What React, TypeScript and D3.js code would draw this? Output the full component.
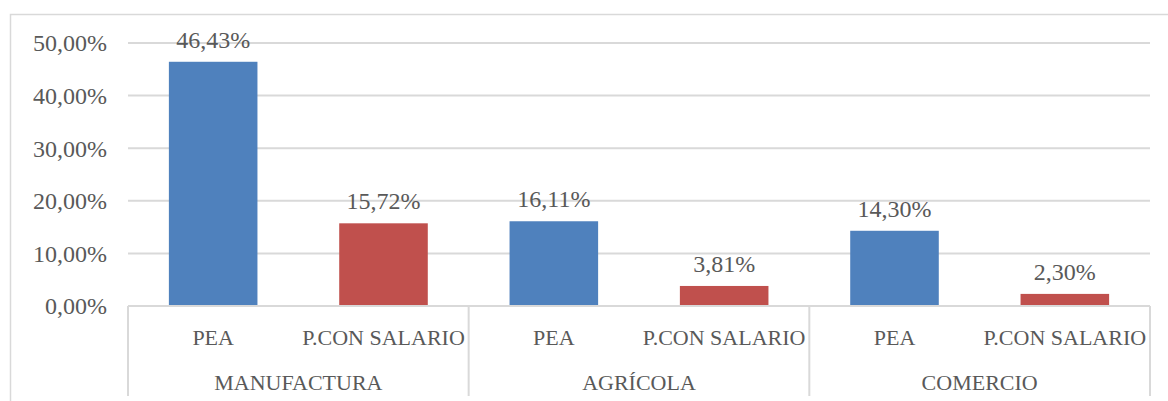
import * as d3 from 'd3';
import { useEffect, useRef } from 'react';

const groups = ['MANUFACTURA', 'AGRÍCOLA', 'COMERCIO'];
const series = ['PEA', 'P.CON SALARIO'];
const peaValues = [46.43, 16.11, 14.3];
const salarioValues = [15.72, 3.81, 2.3];
const yTicks = [0, 10, 20, 30, 40, 50];
const colors = ['#4F81BD', '#C0504D'];

const fmt = (v: number) => v.toFixed(2).replace('.', ',') + '%';

const App = () => {
  const ref = useRef<SVGSVGElement>(null);

  useEffect(() => {
    const width = 1168;
    const height = 401;
    const margin = { top: 43, right: 18, left: 128 };
    const plotBottom = 306;
    const font = '"Liberation Serif", serif';
    const textColor = '#595959';
    const lineColor = '#d9d9d9';

    const svg = d3.select(ref.current);
    svg.selectAll('*').remove();
    svg.attr('width', width).attr('height', height);

    svg.append('rect').attr('width', width).attr('height', height).attr('fill', '#fff');
    // chart border
    svg.append('rect')
      .attr('x', 10.5).attr('y', 14.5)
      .attr('width', width + 10).attr('height', height + 10)
      .attr('fill', 'none').attr('stroke', lineColor).attr('stroke-width', 1.5);

    const rows = groups.flatMap((g, i) => [
      { group: g, gi: i, s: series[0], si: 0, value: peaValues[i] },
      { group: g, gi: i, s: series[1], si: 1, value: salarioValues[i] },
    ]);

    const x0 = d3.scaleBand<string>()
      .domain(groups)
      .range([margin.left, width - margin.right])
      .padding(0);
    const x1 = d3.scaleBand<string>()
      .domain(series)
      .range([0, x0.bandwidth()])
      .padding(0);
    const y = d3.scaleLinear().domain([0, 50]).range([plotBottom, margin.top]);

    // gridlines
    svg.append('g')
      .selectAll('line')
      .data(yTicks.filter(t => t > 0))
      .join('line')
      .attr('x1', margin.left).attr('x2', width - margin.right)
      .attr('y1', d => y(d)).attr('y2', d => y(d))
      .attr('stroke', lineColor).attr('stroke-width', 2);

    // y tick labels
    svg.append('g')
      .selectAll('text')
      .data(yTicks)
      .join('text')
      .attr('x', 107)
      .attr('y', d => y(d))
      .attr('dy', '0.35em')
      .attr('text-anchor', 'end')
      .attr('font-family', font)
      .attr('font-size', 24)
      .attr('fill', textColor)
      .text(d => fmt(d));

    // bars
    const barFrac = 0.52;
    svg.append('g')
      .selectAll('rect')
      .data(rows)
      .join('rect')
      .attr('x', d => x0(d.group)! + x1(d.s)! + x1.bandwidth() * (1 - barFrac) / 2)
      .attr('width', x1.bandwidth() * barFrac)
      .attr('y', d => y(d.value))
      .attr('height', d => plotBottom - y(d.value))
      .attr('fill', d => colors[d.si]);

    // value labels
    svg.append('g')
      .selectAll('text')
      .data(rows)
      .join('text')
      .attr('x', d => x0(d.group)! + x1(d.s)! + x1.bandwidth() / 2)
      .attr('y', d => y(d.value) - 14)
      .attr('text-anchor', 'middle')
      .attr('font-family', font)
      .attr('font-size', 24)
      .attr('fill', textColor)
      .text(d => fmt(d.value));

    // category axis
    svg.append('line')
      .attr('x1', margin.left).attr('x2', width - margin.right)
      .attr('y1', plotBottom).attr('y2', plotBottom)
      .attr('stroke', lineColor).attr('stroke-width', 2);

    const seps = [...groups.map(g => x0(g)!), x0.range()[1]];
    svg.append('g')
      .selectAll('line')
      .data(seps)
      .join('line')
      .attr('x1', d => d).attr('x2', d => d)
      .attr('y1', plotBottom).attr('y2', 396)
      .attr('stroke', lineColor).attr('stroke-width', 2);

    svg.append('g')
      .selectAll('text')
      .data(rows)
      .join('text')
      .attr('x', d => x0(d.group)! + x1(d.s)! + x1.bandwidth() / 2)
      .attr('y', 345)
      .attr('text-anchor', 'middle')
      .attr('font-family', font)
      .attr('font-size', 22)
      .attr('fill', textColor)
      .text(d => d.s);

    svg.append('g')
      .selectAll('text')
      .data(groups)
      .join('text')
      .attr('x', d => x0(d)! + x0.bandwidth() / 2)
      .attr('y', 390)
      .attr('text-anchor', 'middle')
      .attr('font-family', font)
      .attr('font-size', 22)
      .attr('fill', textColor)
      .text(d => d);
  }, []);

  return (
    <div style={{ position: 'fixed', left: 0, top: 0, width: 1168, height: 401, overflow: 'hidden' }}>
      <svg ref={ref} style={{ display: 'block' }}></svg>
    </div>
  );
};

export default App;
